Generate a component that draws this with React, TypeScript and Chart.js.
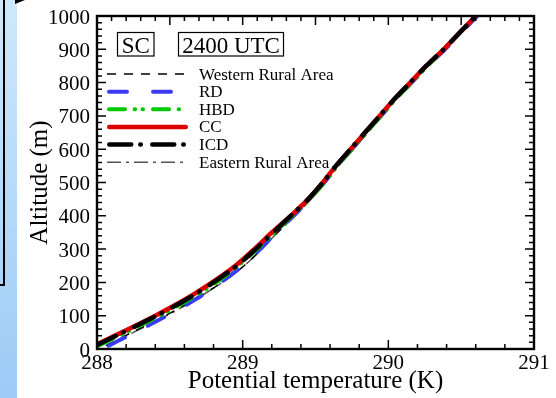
import React, { useEffect, useRef } from 'react';
import { Chart, registerables } from 'chart.js';

Chart.register(...registerables);

// Altitude levels (m)
const altitudes = [10, 50, 100, 150, 200, 250, 300, 350, 400, 450, 500, 550, 600, 650, 700, 750, 800, 850, 900, 950, 1000, 1050];

// Potential temperature (K) per series
const westernRural = [288.06, 288.24, 288.47, 288.67, 288.86, 289.01, 289.13, 289.24, 289.35, 289.46, 289.56, 289.65, 289.75, 289.85, 289.95, 290.05, 290.16, 290.27, 290.38, 290.49, 290.60, 290.71];
const rd = [288.08, 288.26, 288.48, 288.68, 288.85, 289.00, 289.12, 289.23, 289.35, 289.46, 289.56, 289.65, 289.75, 289.85, 289.95, 290.05, 290.16, 290.27, 290.39, 290.50, 290.61, 290.72];
const hbd = [288.01, 288.20, 288.43, 288.64, 288.82, 288.97, 289.10, 289.22, 289.34, 289.46, 289.56, 289.65, 289.75, 289.85, 289.95, 290.05, 290.16, 290.27, 290.38, 290.49, 290.60, 290.71];
const cc = [287.98, 288.17, 288.40, 288.61, 288.79, 288.95, 289.08, 289.20, 289.33, 289.45, 289.55, 289.64, 289.74, 289.84, 289.94, 290.04, 290.15, 290.26, 290.38, 290.49, 290.60, 290.71];
const icd = [287.99, 288.18, 288.41, 288.62, 288.80, 288.96, 289.09, 289.21, 289.33, 289.45, 289.55, 289.64, 289.74, 289.84, 289.94, 290.04, 290.15, 290.26, 290.38, 290.49, 290.60, 290.71];
const easternRural = [288.07, 288.25, 288.48, 288.68, 288.86, 289.01, 289.13, 289.24, 289.36, 289.47, 289.57, 289.66, 289.76, 289.86, 289.95, 290.05, 290.16, 290.27, 290.39, 290.50, 290.61, 290.72];

const seriesNames = ['Western Rural Area', 'RD', 'HBD', 'CC', 'ICD', 'Eastern Rural Area'];
const seriesValues = [westernRural, rd, hbd, cc, icd, easternRural];
const xTickLabels = [288, 289, 290, 291];
const yTickLabels = [0, 100, 200, 300, 400, 500, 600, 700, 800, 900, 1000];
const labelSC = 'SC';
const labelTime = '2400 UTC';
const xTitle = 'Potential temperature (K)';
const yTitle = 'Altitude (m)';

const FONT = "'Liberation Serif', 'Times New Roman', serif";

Chart.defaults.font.family = FONT;
Chart.defaults.color = '#000';

const styles = [
  { color: '#000000', width: 1.5, dash: [9, 8], cap: 'butt', order: 4 },
  { color: '#3b3bf5', width: 4, dash: [18, 26], cap: 'round', order: 3 },
  { color: '#00c800', width: 4, dash: [16, 9.6, 0.5, 7.4, 0.5, 10], cap: 'round', order: 2 },
  { color: '#dd0000', width: 4.5, dash: [], cap: 'round', order: 1 },
  { color: '#000000', width: 4.5, dash: [22, 9, 0.5, 11.5], cap: 'round', order: 0 },
  { color: '#555555', width: 1.5, dash: [14, 5, 3, 5], cap: 'butt', order: 5 },
];

const overlayPlugin = {
  id: 'overlay',
  afterDraw(chart: any) {
    const ctx = chart.ctx as CanvasRenderingContext2D;
    const { left, right, top, bottom } = chart.chartArea;
    const xs = chart.scales.x;
    const ys = chart.scales.y;
    ctx.save();
    // tick marks
    ctx.strokeStyle = '#000';
    ctx.lineWidth = 1.5;
    ctx.beginPath();
    for (let k = 0; k <= 15; k++) {
      const px = xs.getPixelForValue(288 + k * 0.2);
      const len = k % 5 === 0 ? 9 : 5;
      ctx.moveTo(px, bottom);
      ctx.lineTo(px, bottom - len);
    }
    for (let k = 0; k <= 30; k++) {
      const px = xs.getPixelForValue(288 + k * 0.1);
      const len = k % 5 === 0 ? 9 : 5;
      ctx.moveTo(px, top);
      ctx.lineTo(px, top + len);
    }
    for (let k = 0; k <= 50; k++) {
      const py = ys.getPixelForValue(k * 20);
      const len = k % 5 === 0 ? 9 : 5;
      ctx.moveTo(left, py);
      ctx.lineTo(left + len, py);
      ctx.moveTo(right, py);
      ctx.lineTo(right - len, py);
    }
    ctx.stroke();
    ctx.lineWidth = 2.4;
    ctx.strokeRect(left, top, right - left, bottom - top);

    // tick labels
    ctx.fillStyle = '#000';
    ctx.font = `21px ${FONT}`;
    ctx.textBaseline = 'alphabetic';
    ctx.textAlign = 'right';
    for (const v of yTickLabels) {
      ctx.fillText(String(v), left - 7, ys.getPixelForValue(v) + 7.5);
    }
    ctx.textAlign = 'center';
    for (const v of xTickLabels) {
      ctx.fillText(String(v), xs.getPixelForValue(v), bottom + 20);
    }

    // boxed labels
    ctx.font = `23px ${FONT}`;
    ctx.lineWidth = 1.2;
    ctx.textAlign = 'center';
    const boxes = [
      { text: labelSC, x0: left + 20.5, x1: left + 57 },
      { text: labelTime, x0: left + 81.5, x1: left + 186.5 },
    ];
    for (const b of boxes) {
      ctx.strokeRect(b.x0, top + 16.5, b.x1 - b.x0, 23.5);
      ctx.fillText(b.text, (b.x0 + b.x1) / 2, top + 36.5);
    }

    // legend
    ctx.font = `17px ${FONT}`;
    ctx.textAlign = 'left';
    for (let i = 0; i < seriesNames.length; i++) {
      const y = top + 58 + i * 17.65;
      const s = styles[i];
      ctx.beginPath();
      ctx.strokeStyle = s.color;
      ctx.lineWidth = s.width;
      ctx.lineCap = s.cap as CanvasLineCap;
      ctx.setLineDash(s.dash);
      const x0 = left + 10 + (s.cap === 'round' ? s.width / 2 : 0);
      const x1 = left + 91 - (s.cap === 'round' ? s.width / 2 : 0);
      ctx.moveTo(x0, y);
      ctx.lineTo(x1, y);
      ctx.stroke();
      ctx.setLineDash([]);
      ctx.fillStyle = '#000';
      ctx.fillText(seriesNames[i], left + 102, y + 5.5);
    }
    ctx.restore();
  },
};

export default function App() {
  const ref = useRef<HTMLCanvasElement | null>(null);
  useEffect(() => {
    document.body.style.margin = '0';
    const canvas = ref.current;
    if (!canvas) return;
    const datasets = seriesNames.map((name, i) => ({
      label: name,
      data: altitudes.map((z, j) => ({ x: seriesValues[i][j], y: z })),
      showLine: true,
      borderColor: styles[i].color,
      backgroundColor: styles[i].color,
      borderWidth: styles[i].width,
      borderDash: styles[i].dash,
      borderCapStyle: styles[i].cap,
      borderJoinStyle: 'round',
      pointRadius: 0,
      tension: 0.3,
      order: styles[i].order,
      fill: false,
    }));
    const chart = new Chart(canvas, {
      type: 'scatter',
      data: { datasets } as any,
      options: {
        animation: false,
        responsive: false,
        maintainAspectRatio: false,
        layout: { padding: { top: 16, right: 22, left: 0, bottom: 0 } },
        plugins: { legend: { display: false }, tooltip: { enabled: false } },
        scales: {
          x: {
            type: 'linear',
            min: 288,
            max: 291,
            grid: { display: false, drawTicks: false },
            border: { display: false },
            ticks: { display: false, stepSize: 1 },
            title: { display: true, text: xTitle, color: '#000', font: { family: FONT, size: 25, lineHeight: 1.2 }, padding: { top: 0, bottom: 2 } },
            afterFit(scale: any) { scale.height = 49; },
          },
          y: {
            type: 'linear',
            min: 0,
            max: 1000,
            grid: { display: false, drawTicks: false },
            border: { display: false },
            ticks: { display: false, stepSize: 100 },
            title: { display: true, text: yTitle, color: '#000', font: { family: FONT, size: 25, lineHeight: 1.2 }, padding: { top: 25.5, bottom: 0 } },
            afterFit(scale: any) { scale.width = 97; },
          },
        },
      },
      plugins: [overlayPlugin],
    } as any);
    return () => chart.destroy();
  }, []);

  return (
    <div style={{ position: 'relative', width: 556, height: 398, overflow: 'hidden', background: '#fff' }}>
      <div style={{ position: 'absolute', left: 0, top: 0, width: 17, height: 398, background: 'linear-gradient(#cfe8fb, #9ccbf6)' }} />
      <div style={{ position: 'absolute', left: -10, top: -10, width: 15, height: 296, boxSizing: 'border-box', border: '2px solid #000' }} />
      <svg style={{ position: 'absolute', left: 0, top: 0 }} width={30} height={8}>
        <polygon points="15,0 25,0 15,4" fill="#000" />
      </svg>
      <canvas ref={ref} width={556} height={398} style={{ position: 'absolute', left: 0, top: 0 }} />
    </div>
  );
}
